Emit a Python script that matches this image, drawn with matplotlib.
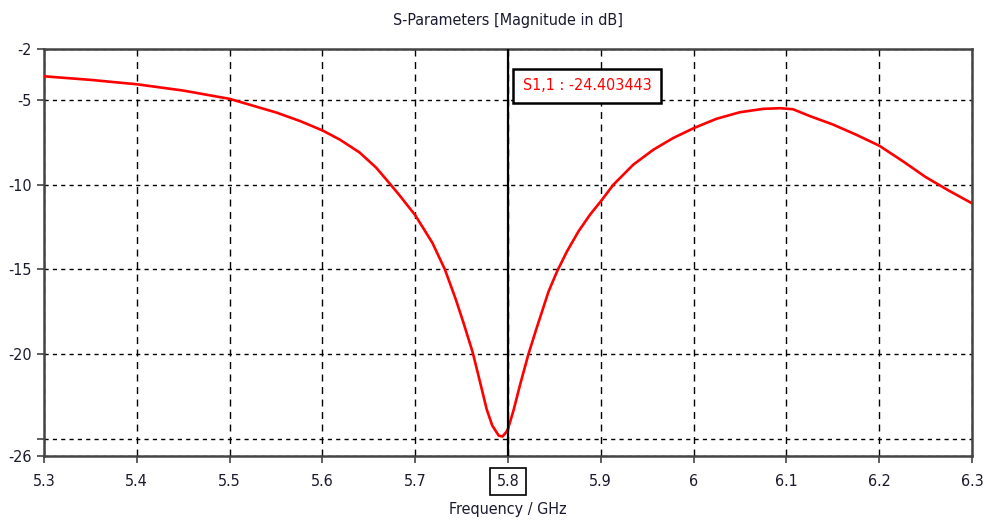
import matplotlib
matplotlib.use("Agg")
import matplotlib.pyplot as plt
from matplotlib import font_manager

# narrow sans if one is there, else Liberation Sans
cond = [f for f in font_manager.fontManager.ttflist
        if f.name == 'DejaVu Sans' and f.stretch == 'condensed']
if cond:
    plt.rcParams['font.family'] = ['DejaVu Sans']
    plt.rcParams['font.stretch'] = 'condensed'
    FS = 11.5
else:
    plt.rcParams['font.family'] = ['Liberation Sans', 'DejaVu Sans']
    FS = 12.5

# S1,1 magnitude
freq = [5.30, 5.35, 5.40, 5.45, 5.50, 5.55, 5.576, 5.60, 5.619, 5.640, 5.658,
        5.672, 5.683, 5.700, 5.7185, 5.732, 5.7437, 5.752, 5.762, 5.770, 5.777,
        5.783, 5.790, 5.794, 5.798, 5.80, 5.806, 5.813, 5.822, 5.830, 5.8437,
        5.853, 5.8634, 5.876, 5.8885, 5.90, 5.9136, 5.935, 5.9566, 5.978, 6.00,
        6.0244, 6.0498, 6.0749, 6.0928, 6.107, 6.125, 6.15, 6.175, 6.20, 6.225,
        6.25, 6.275, 6.30]
s11 = [-3.61, -3.82, -4.08, -4.45, -4.94, -5.74, -6.25, -6.80, -7.35, -8.1, -9.0,
       -9.9, -10.62, -11.8, -13.43, -15.0, -16.76, -18.14, -19.90, -21.67, -23.24,
       -24.2, -24.8, -24.85, -24.6, -24.40, -23.3, -21.8, -20.0, -18.6, -16.3,
       -15.1, -13.95, -12.75, -11.76, -10.98, -10.0, -8.82, -7.94, -7.25, -6.67,
       -6.12, -5.73, -5.53, -5.49, -5.55, -5.95, -6.45, -7.05, -7.7, -8.6,
       -9.55, -10.35, -11.1]

xticks = [5.3, 5.4, 5.5, 5.6, 5.7, 5.8, 5.9, 6.0, 6.1, 6.2, 6.3]
xtick_labels = ['5.3', '5.4', '5.5', '5.6', '5.7', '5.8', '5.9', '6', '6.1', '6.2', '6.3']
yticks = [-26, -25, -20, -15, -10, -5, -2]
ytick_labels = ['-26', '', '-20', '-15', '-10', '-5', '-2']

marker_f = 5.8
marker_text = 'S1,1 : -24.403443'

fig = plt.figure(figsize=(9.86, 5.25), dpi=100)
ax = fig.add_axes([44 / 986, 1 - 456 / 525, 928 / 986, 407 / 525])

ax.plot(freq, s11, color='red', lw=1.9, zorder=3)
ax.axvline(marker_f, color='black', lw=1.6, zorder=4)

ax.set_xlim(5.3, 6.3)
ax.set_ylim(-26, -2)
ax.set_xticks(xticks)
ax.set_xticklabels(xtick_labels)
ax.set_yticks(yticks)
ax.set_yticklabels(ytick_labels)

ax.xaxis.grid(True, color='black', lw=1.0, ls=(0, (5, 4)), zorder=1)
ax.yaxis.grid(True, color='black', lw=1.0, ls=(0, (3, 3)), zorder=1)

for s in ax.spines.values():
    s.set_color('#444444')
    s.set_linewidth(1.8)

ax.tick_params(direction='out', length=5, width=1.2, color='#444444',
               labelsize=FS, labelcolor='#1a1a2e', pad=8)
ax.tick_params(axis='y', pad=4)

for lbl in ax.get_xticklabels():
    if lbl.get_text() == '5.8':
        lbl.set_bbox(dict(boxstyle='square,pad=0.4', fc='white', ec='black', lw=1.2))

ax.set_title('S-Parameters [Magnitude in dB]', fontsize=FS, color='#1a1a2e', pad=17)
ax.set_xlabel('Frequency / GHz', fontsize=FS, color='#1a1a2e', labelpad=9)

fig.text(523 / 986, 1 - 86 / 525, marker_text, color='red', fontsize=FS,
         ha='left', va='center',
         bbox=dict(boxstyle='square,pad=0.6', fc='white', ec='black', lw=1.8))

fig.savefig('out.png', dpi=100)
